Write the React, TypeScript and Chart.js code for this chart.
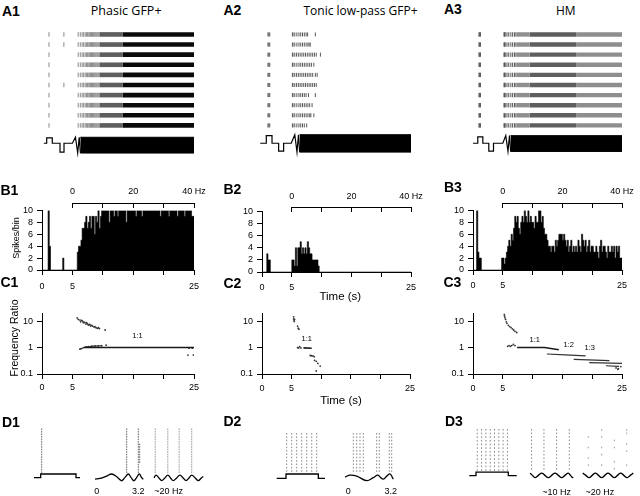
import React, { useEffect, useRef } from "react";
import { Chart, registerables } from "chart.js";

Chart.register(...registerables);

const SANS = "'Liberation Sans', Arial, Helvetica, sans-serif";
const TITLE_FONT = "'Open Sans', 'Noto Sans', sans-serif";
Chart.defaults.font.family = SANS;
Chart.defaults.color = "#000";

/* ======================= DATA ======================= */
const TRIALS = [1, 2, 3, 4, 5, 6, 7, 8, 9, 10];

// ---- A1 Phasic GFP+ (spike times, s) ----
const A1_EARLY_SPIKES = [[1.15, 3.6], [1.15, 3.6], [1.15], [1.15], [1.15], [1.15, 3.6], [1.15], [1.15], [1.15], [1.15]];
const A1_CHIRP_SPIKES = [5.95, 6.3, 6.6, 6.85, 7.1, 7.3, 7.5, 7.7, 7.85, 8.0, 8.15, 8.3, 8.45, 8.6, 8.75, 8.9, 9.05, 9.2, 9.35];
const A1_DENSE_RUNS = [[9.45, 13.3, 3], [13.3, 25, 4]]; // [start s, end s, density level]
const A1_STIM = [[0.3, 0], [0.77, 0], [0.77, 1], [1.69, 1], [1.69, 0], [2.96, 0], [2.96, -1.63], [3.62, -1.63], [3.62, 0], [5.0, 0], [5.5, 1.1], [5.87, -1.8], [6.12, 1.1], [6.32, -1.8]];
const A1_STIM_BAND = [6.3, 25, -1.8, 1.1];

// ---- A2 Tonic low-pass GFP+ ----
const A2_SPIKES = [
  [1.0, 1.15, 1.3, 5.1, 5.2, 5.5, 5.85, 6.2, 6.5, 6.8, 7.1, 7.4, 7.65, 8.95],
  [1.0, 1.15, 1.3, 5.1, 5.2, 5.5, 5.85, 6.2, 6.5, 6.8, 7.1, 7.4, 7.7, 7.9, 8.1],
  [1.0, 1.15, 1.3, 5.1, 5.2, 5.5, 5.8, 6.1, 6.4, 6.7, 7.0, 7.3, 7.6, 7.9, 8.2, 8.5, 8.8, 9.1, 9.8],
  [1.0, 1.15, 1.3, 5.1, 5.2, 5.5, 5.85, 6.2, 6.5, 6.8, 7.1, 7.4, 7.7, 8.0, 8.3, 8.7],
  [1.0, 1.15, 1.3, 5.1, 5.2, 5.5, 5.8, 6.1, 6.4, 6.7, 7.0, 7.3, 7.6, 7.9, 8.2, 8.5, 8.95, 9.25],
  [1.0, 1.15, 1.3, 5.1, 5.2, 5.5, 5.8, 6.1, 6.4, 6.7, 7.0, 7.3, 7.6, 7.9, 8.2, 8.5, 8.8, 9.1],
  [1.0, 1.15, 1.3, 5.1, 5.2, 5.5, 5.85, 6.2, 6.5, 6.8, 7.1, 7.4, 7.8, 8.95],
  [1.0, 1.15, 1.3, 5.1, 5.2, 5.5, 5.85, 6.2, 6.5, 6.8, 7.1, 7.4, 7.7, 8.0, 8.4],
  [1.0, 1.15, 1.3, 5.1, 5.2, 5.5, 5.85, 6.2, 6.5, 6.8, 7.1, 7.4, 7.7, 8.0, 8.2, 8.7],
  [1.0, 1.15, 1.3, 5.1, 5.2, 5.5, 5.85, 6.2, 6.5, 6.8, 7.1, 7.5],
];
const A2_STIM = [[-0.3, 0], [0.72, 0], [0.72, 1], [1.68, 1], [1.68, 0], [2.79, 0], [2.79, -1.04], [3.63, -1.04], [3.63, 0], [4.9, 0], [5.5, 1.12], [5.87, -1.16], [6.12, 1.12], [6.32, -1.16]];
const A2_STIM_BAND = [6.3, 25.2, -1.16, 1.12];

// ---- A3 HM ----
const A3_EARLY_SPIKES = [1.0, 1.12, 1.25];
const A3_CHIRP_SPIKES = [5.2, 5.3, 5.4, 5.7, 6.0, 6.35, 6.65, 6.95, 7.2];
const A3_DENSE_RUNS = [[7.3, 9.5, 2], [9.5, 17.3, 3], [17.3, 25.1, 2]];
const A3_STIM = [[0, 0], [0.8, 0], [0.8, 1], [1.65, 1], [1.65, 0], [2.65, 0], [2.65, -1.24], [3.44, -1.24], [3.44, 0], [5.0, 0], [5.5, 1.19], [5.87, -1.28], [6.12, 1.19], [6.32, -1.28]];
const A3_STIM_BAND = [6.3, 25.1, -1.28, 1.19];

// ---- B: spike histograms, 0.2 s bins from 0 s ----
const HIST_START = 0;
const HIST_BIN = 0.2;
const B1_COUNTS = [
  0, 0, 0, 0, 0, 0, 10, 4, 0, 0,
  0, 0, 0, 0, 0, 0, 0, 0, 2, 0,
  0, 0, 0, 0, 0, 0, 0, 0, 0, 0,
  3, 4, 4, 5, 7, 7, 8, 9, 7, 8,
  9, 7, 9, 9, 6, 9, 8, 10, 7, 9,
  10, 10, 10, 10, 10, 10, 8, 10, 10, 10,
  9, 10, 10, 9, 10, 10, 10, 10, 10, 10,
  8, 10, 10, 10, 10, 10, 10, 10, 9, 10,
  10, 10, 10, 9, 10, 10, 10, 10, 10, 10,
  10, 10, 10, 10, 10, 10, 10, 10, 9, 10,
  10, 10, 10, 10, 10, 9, 10, 10, 10, 10,
  10, 10, 9, 10, 10, 10, 10, 10, 9, 10,
  10, 10, 10, 10, 9,
];
const B2_COUNTS = [
  0, 0, 0, 0, 0, 3, 2, 2, 0, 0,
  0, 0, 0, 0, 0, 0, 0, 0, 0, 0,
  0, 0, 0, 0, 0, 0, 2, 2, 1, 4,
  1, 4, 4, 5, 3, 4, 3, 4, 3, 5,
  4, 3, 3, 2, 2, 2, 2, 2, 1, 0,
  0, 0, 0, 0, 0, 0, 0, 0, 0, 0,
  0, 0, 0, 0, 0, 0, 0, 0, 0, 0,
  0, 0, 0, 0, 0, 0, 0, 0, 0, 0,
  0, 0, 0, 0, 0, 0, 0, 0, 0, 0,
  0, 0, 0, 0, 0, 0, 0, 0, 0, 0,
  0, 0, 0, 0, 0, 0, 0, 0, 0, 0,
  0, 0, 0, 0, 0, 0, 0, 0, 0, 0,
  0, 0, 0, 0, 0,
];
const B3_COUNTS = [
  0, 0, 0, 0, 10, 3, 2, 2, 0, 0,
  0, 0, 0, 0, 0, 0, 0, 0, 0, 0,
  0, 0, 0, 0, 0, 2, 2, 1, 2, 3,
  4, 5, 4, 6, 5, 7, 9, 8, 9, 7,
  6, 8, 9, 8, 10, 9, 8, 10, 8, 9,
  8, 8, 7, 9, 8, 8, 10, 10, 8, 9,
  7, 6, 6, 5, 4, 4, 3, 4, 4, 3,
  5, 4, 5, 6, 6, 6, 5, 6, 5, 4,
  5, 3, 4, 5, 3, 4, 3, 4, 3, 5,
  4, 3, 6, 5, 4, 5, 3, 4, 5, 3,
  4, 4, 3, 3, 4, 3, 2, 4, 5, 3,
  4, 4, 3, 2, 4, 3, 3, 4, 3, 4,
  2, 4, 3, 4, 2,
];
const TIME_TICKS = [0, 5, 10, 15, 20, 25];
const TIME_TICK_LABELS = ["0", "5", "", "", "", "25"];
const COUNT_TICKS = [0, 2, 4, 6, 8, 10];
const COUNT_TICK_LABELS = ["0", "2", "4", "6", "8", "10"];
const HZ_TICKS = [0, 10, 20, 30, 40];
const HZ_TICK_LABELS = ["0", "", "20", "", "40 Hz"];

// ---- C: frequency ratio (time s, ratio) ----
const RATIO_TICKS = [0.1, 1, 10];
const RATIO_TICK_LABELS = ["0.1", "1", "10"];
const C1_DOTS = [
  [5.79, 13.3], [5.96, 11.5], [6.24, 10.9], [6.35, 9.4], [6.51, 10.6], [6.68, 10], [6.79, 8.7], [6.9, 9.2], [7.06, 8.7], [7.23, 7.7],
  [7.34, 8.7], [7.45, 7.9], [7.62, 7.1], [7.78, 7.5], [7.89, 7.3], [8.0, 6.5], [8.17, 6.9], [8.33, 6.5], [8.55, 6.0], [8.72, 6.1],
  [8.89, 5.6], [9.1, 5.3], [9.27, 5.6], [9.44, 5.2], [10.38, 4.6],
  [6.24, 0.87], [6.51, 0.91], [7.23, 1.06], [7.62, 1.09], [8.17, 1.12], [8.72, 1.15], [9.27, 1.15], [9.82, 1.17], [10.54, 1.23],
  [24.17, 0.95], [24.72, 0.95], [24.0, 0.52], [24.9, 0.52],
];
const C1_TRENDS = [
  [[6.8, 1.0], [25, 1.0]],
  [[6.2, 0.88], [7.2, 1.05], [8.5, 1.13], [9.8, 1.17]],
];
const C2_DOTS = [
  [5.34, 14.5], [5.34, 12.2], [5.39, 10.9], [5.45, 9.7], [5.5, 11.5], [6.01, 6.5], [6.12, 5.35], [6.24, 4.9],
  [6.01, 1.0], [6.18, 0.97], [6.35, 1.09], [6.57, 0.97],
  [8.15, 0.5], [8.37, 0.49], [8.6, 0.48], [8.82, 0.45],
  [8.88, 0.33], [9.16, 0.3], [9.44, 0.25], [9.83, 0.2], [9.16, 0.13],
];
const C2_TRENDS = [[[7.0, 0.97], [8.4, 0.94]]];
const C3_DOTS = [
  [5.25, 17.7], [5.3, 15.3], [5.36, 13.3], [5.47, 11.5], [5.59, 9.4], [5.7, 8.2], [5.93, 6.9], [6.15, 6.2], [6.38, 5.7], [6.6, 5.1],
  [6.83, 4.6], [7.05, 4.1], [7.34, 3.7],
  [5.81, 1.11], [6.04, 1.19], [6.26, 1.11], [6.49, 1.19], [6.77, 1.3], [7.05, 1.19],
  [24.0, 0.17], [24.4, 0.16], [24.8, 0.19], [24.3, 0.15],
];
const C3_TRENDS = [
  [[7.4, 1.0], [12.0, 1.0], [14.4, 0.83]],
  [[12.4, 0.57], [15.5, 0.53], [18.9, 0.48]],
  [[16.9, 0.36], [22.9, 0.32]],
  [[19.5, 0.27], [25, 0.25]],
  [[22.3, 0.205], [24.5, 0.195]],
];

// ---- D: example rasters (times in ms) ----
const D1_TRIALS = [1, 2, 3, 4, 5, 6, 7, 8, 9, 10, 11, 12, 13, 14, 15, 16, 17, 18];
const D23_TRIALS = [1, 2, 3, 4, 5, 6, 7, 8, 9, 10, 11, 12];
const D1A_STIM = [[-190, 0], [0, 0], [0, 1], [1000, 1], [1000, 0], [1113, 0]];
const D1A_SPIKE_TIMES = [28];
const D1B_STIM = [[0, -0.5], [207, -0.3], [484, 0.4], [691, 1], [898, 0.2], [1106, -1], [1242, 0], [1379, 1], [1490, 0], [1615, -1], [1727, 0], [1834, 1], [1925, 0], [2000, -0.6]];
const D1B_SPIKE_TIMES = [1312, 1793];
const D1B_EXTRA_TIME = 1850;
const D1B_EXTRA_TRIALS = [7, 8, 9, 10, 11, 12, 13, 14];
const D1C_STIM = [[0, 0], [8, 1], [20, 0], [31, -1], [44, 0], [56, 1], [67, 0], [78, -1], [92, 0], [105, 1], [118, 0], [130, -1], [142, 0], [153, 1], [167, 0], [180, -1], [192, 0], [200, 0.5]];
const D1C_SPIKE_TIMES = [5, 56, 102, 153];
const D2A_STIM = [[-288, 0], [0, 0], [0, 1], [1000, 1], [1000, 0], [1207, 0]];
const D2A_SPIKE_TIMES = [21, 176, 331, 486, 641, 796, 950];
const D2B_STIM = [[0, 0.17], [207, 0.67], [483, 0.42], [897, -0.83], [1173, 0], [1354, 0.67], [1478, 0], [1588, -0.42], [1727, 0.42], [1863, 1], [2000, -0.42]];
const D2B_SPIKE_TIMES = [344, 484, 621, 758, 1312, 1420, 1834, 1934];
const D3A_STIM = [[-207, 0], [0, 0], [0, 1], [1000, 1], [1000, 0], [1260, 0]];
const D3A_SPIKE_TIMES = [40, 173, 307, 440, 573, 706, 839, 972];
const D3B_STIM = [[0, 1], [23, 0], [46, -1], [77, 0], [108, 1], [138, 0], [169, -1], [200, 0], [231, 1], [262, 0], [292, -1], [323, 0], [354, 1], [374, 0], [394, -1], [400, -0.8]];
const D3B_SPIKE_TIMES = [15, 129, 246, 363];
const D3C_STIM = [[0, 1], [12.5, 0], [25, -1], [37.5, 0], [50, 1], [62.5, 0], [75, -1], [87.5, 0], [100, 1], [112.5, 0], [125, -1], [137.5, 0], [150, 1], [162.5, 0], [176, -1], [188, 0], [200, 1]];
const D3C_SPIKES = [[22, [3, 6, 9, 11]], [75, [1, 3, 6, 8, 11]], [125, [4, 6, 10, 12]], [174, [1, 2, 5, 7, 11]]];

/* ======================= STYLE / LAYOUT ======================= */
const DENSITY_SHADES = ["#ffffff", "#b0b0b0", "#8e8e8e", "#5e5e5e", "#0a0a0a"];

const baseOptions = (pad) => ({
  animation: false,
  responsive: false,
  events: [],
  layout: { padding: pad },
  plugins: { legend: { display: false }, tooltip: { enabled: false } },
});

// raster/stimulus strip (A and D panels)
function strip(o) {
  const L = o.layout;
  const left = Math.floor(L.L - 10), right = Math.ceil(L.R + 8);
  const top = Math.floor(L.T - 2), bottom = Math.ceil(L.B + 2);
  const pad = { left: L.L - left, right: right - L.R, top: L.T - top, bottom: bottom - L.B };
  const make = () => {
    const ds: any[] = [];
    (o.runs || []).forEach((r) =>
      ds.push({
        data: [{ x: r.t0, y: r.row }, { x: r.t1, y: r.row }],
        yAxisID: "y", borderColor: r.color, borderWidth: o.tick.len, borderCapStyle: "butt",
        pointRadius: 0, fill: false,
      })
    );
    ds.push({
      data: o.spikes, yAxisID: "y", showLine: false, pointStyle: "line", pointRotation: 90,
      pointRadius: o.tick.len / 2, pointBorderWidth: o.tick.width, pointBorderColor: o.tick.color,
      borderColor: o.tick.color, pointBackgroundColor: o.tick.color, clip: false,
    });
    if (o.band) {
      const [t0, t1, lo, hi] = o.band;
      ds.push({ data: [{ x: t0, y: hi }, { x: t1, y: hi }], yAxisID: "ys", borderColor: "#000", borderWidth: 1, pointRadius: 0, fill: "+1", backgroundColor: "#000" });
      ds.push({ data: [{ x: t0, y: lo }, { x: t1, y: lo }], yAxisID: "ys", borderColor: "#000", borderWidth: 1, pointRadius: 0, fill: false });
    }
    ds.push({
      data: o.stim.map(([x, y]) => ({ x, y })), yAxisID: "ys", borderColor: "#000",
      borderWidth: o.stimWidth || 1.2, pointRadius: 0, tension: o.tension || 0, clip: false, fill: false,
    });
    return {
      type: "line",
      data: { datasets: ds },
      options: {
        ...baseOptions(pad),
        scales: {
          x: { type: "linear", display: false, min: L.xMin, max: L.xMax },
          y: { type: "linear", display: false, reverse: true, min: 1 + (L.T - L.rowTop) / L.rowStep, max: 1 + (L.B - L.rowTop) / L.rowStep },
          ys: { type: "linear", display: false, min: (L.stimBase - L.B) / L.stimScale, max: (L.stimBase - L.T) / L.stimScale },
        },
      },
    };
  };
  return { box: { left, top, width: right - left, height: bottom - top }, make };
}

const tickFont = { family: SANS, size: 9 };
const axisGrid = { drawOnChartArea: false, drawTicks: true, tickLength: 5, color: "#000", lineWidth: 1, offset: false };
const axisBorder = { display: true, color: "#000", width: 1 };

function timeAxis(pad) {
  return {
    type: "linear", min: 0, max: 25, offset: false,
    afterBuildTicks: (s) => { s.ticks = TIME_TICKS.map((value) => ({ value })); },
    afterFit: (s) => { s.height = 24; },
    ticks: { autoSkip: false, maxRotation: 0, padding: pad, color: "#000", font: tickFont, callback: (_v, i) => TIME_TICK_LABELS[i] },
    grid: axisGrid, border: axisBorder,
  };
}

function axesPanel(o) {
  const left = o.L - 40, top = o.T - 8, right = o.R + 14, bottom = o.B + 24;
  const make = () => ({
    type: "line",
    data: { datasets: o.datasets() },
    options: {
      ...baseOptions({ left: 0, right: 14, top: 8, bottom: 0 }),
      scales: { x: timeAxis(o.xPad), y: o.yAxis() },
    },
  });
  return { box: { left, top, width: right - left, height: bottom - top }, make };
}

function countAxis() {
  return {
    type: "linear", min: 0, max: 10,
    afterBuildTicks: (s) => { s.ticks = COUNT_TICKS.map((value) => ({ value })); },
    afterFit: (s) => { s.width = 40; },
    ticks: { autoSkip: false, padding: 4, color: "#000", font: tickFont, callback: (_v, i) => COUNT_TICK_LABELS[i] },
    grid: axisGrid, border: axisBorder,
  };
}
function ratioAxis() {
  return {
    type: "logarithmic", min: 0.1, max: 19.5,
    afterBuildTicks: (s) => { s.ticks = RATIO_TICKS.map((value) => ({ value })); },
    afterFit: (s) => { s.width = 40; },
    ticks: { autoSkip: false, padding: 4, color: "#000", font: tickFont, callback: (_v, i) => RATIO_TICK_LABELS[i] },
    grid: axisGrid, border: axisBorder,
  };
}

// histogram drawn as a stepped, filled outline (one step per bin)
function histPanel(L, R, T, B, counts, xPad) {
  return axesPanel({
    L, R, T, B, xPad, yAxis: countAxis,
    datasets: () => [{
      data: [
        ...counts.map((c, i) => ({ x: HIST_START + i * HIST_BIN, y: c })),
        { x: HIST_START + counts.length * HIST_BIN, y: counts[counts.length - 1] },
      ],
      stepped: "after", fill: "origin", backgroundColor: "#000", borderColor: "#000",
      borderWidth: 0.6, pointRadius: 0,
    }],
  });
}

function ratioPanel(L, R, T, B, dots, trends, xPad) {
  return axesPanel({
    L, R, T, B, xPad, yAxis: ratioAxis,
    datasets: () => [
      ...trends.map((seg, k) => ({
        data: seg.map(([x, y]) => ({ x, y })), borderColor: k === 0 ? "#1a1a1a" : "#333",
        borderWidth: k === 0 ? 1.6 : 1.2, pointRadius: 0, fill: false,
      })),
      {
        data: dots.map(([x, y]) => ({ x, y })), showLine: false, pointRadius: 0.9,
        pointBackgroundColor: "#333", pointBorderWidth: 0,
      },
    ],
  });
}

function hzAxisPanel(L, R, lineY, pad) {
  const left = Math.floor(L - 12), right = Math.ceil(R + 24);
  const top = lineY - 18, bottom = lineY + 5;
  const make = () => ({
    type: "line",
    data: { datasets: [] },
    options: {
      ...baseOptions({ left: L - left, right: right - R, top: 0, bottom: 0 }),
      scales: {
        x: {
          type: "linear", position: "top", min: 0, max: 40, offset: false,
          afterBuildTicks: (s) => { s.ticks = HZ_TICKS.map((value) => ({ value })); },
          afterFit: (s) => { s.height = 18; },
          ticks: { autoSkip: false, maxRotation: 0, padding: pad, color: "#000", font: tickFont, callback: (_v, i) => HZ_TICK_LABELS[i] },
          grid: { drawOnChartArea: true, drawTicks: false, color: "#000", lineWidth: 1 },
          border: axisBorder,
        },
        y: { type: "linear", display: false, min: 0, max: 1 },
      },
    },
  });
  return { box: { left, top, width: right - left, height: bottom - top }, make };
}

/* ---- helpers to turn data into points ---- */
const rowSpikes = (rows) => rows.flatMap((ts, i) => ts.map((t) => ({ x: t, y: i + 1 })));
const columnSpikes = (times, trials) => times.flatMap((t) => trials.map((r) => ({ x: t, y: r })));
const denseRuns = (runs) => TRIALS.flatMap((row) => runs.map(([t0, t1, lvl]) => ({ t0, t1, row, color: DENSITY_SHADES[lvl] })));

const A_ROWS = { T: 26, B: 158, rowTop: 31.7, rowStep: 10.59, stimBase: 145.7, xMin: 0, xMax: 25 };
const D_TICK = { len: 1.6, width: 1, color: "#6a6a6a" };

const PLOTS = [
  // A rasters
  strip({
    layout: { ...A_ROWS, L: 42, R: 194, stimScale: 5.7 },
    spikes: [...rowSpikes(A1_EARLY_SPIKES), ...rowSpikes(TRIALS.map(() => A1_CHIRP_SPIKES))],
    runs: denseRuns(A1_DENSE_RUNS), tick: { len: 4.6, width: 1, color: "#8a8a8a" },
    stim: A1_STIM, band: A1_STIM_BAND,
  }),
  strip({
    layout: { ...A_ROWS, L: 262, R: 411, stimScale: 8 },
    spikes: rowSpikes(A2_SPIKES), tick: { len: 4, width: 1, color: "#5a5a5a" },
    stim: A2_STIM, band: A2_STIM_BAND,
  }),
  strip({
    layout: { ...A_ROWS, L: 473, R: 622, stimScale: 6.7 },
    spikes: rowSpikes(TRIALS.map(() => [...A3_EARLY_SPIKES, ...A3_CHIRP_SPIKES])),
    runs: denseRuns(A3_DENSE_RUNS), tick: { len: 4.4, width: 1, color: "#555" },
    stim: A3_STIM, band: A3_STIM_BAND,
  }),
  // B histograms
  histPanel(42, 194, 209, 270, B1_COUNTS, 6),
  histPanel(262, 411, 210, 272, B2_COUNTS, 5),
  histPanel(473, 622, 209, 270, B3_COUNTS, 5.5),
  hzAxisPanel(72.4, 194, 203, 6),
  hzAxisPanel(291.8, 411, 207, 5),
  hzAxisPanel(502.8, 622, 203, 6),
  // C ratios
  ratioPanel(42, 194, 312, 374, C1_DOTS, C1_TRENDS, 3.5),
  ratioPanel(262, 410, 312, 374, C2_DOTS, C2_TRENDS, 4.5),
  ratioPanel(473, 622, 312, 374, C3_DOTS, C3_TRENDS, 4.5),
  // D examples
  strip({ layout: { L: 34, R: 80, xMin: -190, xMax: 1113, T: 422, B: 487, rowTop: 426.7, rowStep: 2.78, stimBase: 480, stimScale: 4 },
    spikes: columnSpikes(D1A_SPIKE_TIMES, D1_TRIALS), tick: D_TICK, stim: D1A_STIM, stimWidth: 1.3 }),
  strip({ layout: { L: 95, R: 143.3, xMin: 0, xMax: 2000, T: 422, B: 487, rowTop: 426.7, rowStep: 2.78, stimBase: 479.7, stimScale: 3.7 },
    spikes: [...columnSpikes(D1B_SPIKE_TIMES, D1_TRIALS), ...columnSpikes([D1B_EXTRA_TIME], D1B_EXTRA_TRIALS)],
    tick: D_TICK, stim: D1B_STIM, tension: 0.4, stimWidth: 1.3 }),
  strip({ layout: { L: 154, R: 203.3, xMin: 0, xMax: 200, T: 422, B: 487, rowTop: 426.7, rowStep: 2.78, stimBase: 480.3, stimScale: 3 },
    spikes: columnSpikes(D1C_SPIKE_TIMES, D1_TRIALS), tick: { ...D_TICK, color: "#9a9a9a" }, stim: D1C_STIM, tension: 0.4, stimWidth: 1.3 }),
  strip({ layout: { L: 276.7, R: 325, xMin: -288, xMax: 1207, T: 422, B: 487, rowTop: 431.7, rowStep: 3.73, stimBase: 480.7, stimScale: 4.7 },
    spikes: columnSpikes(D2A_SPIKE_TIMES, D23_TRIALS), tick: { ...D_TICK, color: "#8a8a8a" }, stim: D2A_STIM, stimWidth: 1.3 }),
  strip({ layout: { L: 345, R: 393.3, xMin: 0, xMax: 2000, T: 422, B: 487, rowTop: 431.7, rowStep: 3.73, stimBase: 480, stimScale: 4 },
    spikes: columnSpikes(D2B_SPIKE_TIMES, D23_TRIALS), tick: { ...D_TICK, color: "#8a8a8a" }, stim: D2B_STIM, tension: 0.4, stimWidth: 1.3 }),
  strip({ layout: { L: 469.3, R: 516.7, xMin: -207, xMax: 1260, T: 422, B: 487, rowTop: 427.3, rowStep: 4.03, stimBase: 477.7, stimScale: 3.7 },
    spikes: columnSpikes(D3A_SPIKE_TIMES, D23_TRIALS), tick: { ...D_TICK, color: "#8a8a8a" }, stim: D3A_STIM, stimWidth: 1.3 }),
  strip({ layout: { L: 530, R: 573.3, xMin: 0, xMax: 400, T: 422, B: 487, rowTop: 427.3, rowStep: 3.9, stimBase: 477.5, stimScale: 2.5 },
    spikes: columnSpikes(D3B_SPIKE_TIMES, D23_TRIALS), tick: { ...D_TICK, color: "#8a8a8a" }, stim: D3B_STIM, tension: 0.4, stimWidth: 1.3 }),
  strip({ layout: { L: 582.7, R: 633.3, xMin: 0, xMax: 200, T: 422, B: 487, rowTop: 427.3, rowStep: 3.9, stimBase: 477.5, stimScale: 2.5 },
    spikes: D3C_SPIKES.flatMap(([t, rows]) => rows.map((r) => ({ x: t, y: r }))), tick: { ...D_TICK, color: "#9a9a9a" }, stim: D3C_STIM, tension: 0.4, stimWidth: 1.3 }),
];

/* ======================= TEXT ======================= */
const TEXTS = [
  // panel labels
  { t: "A1", x: 2, y: 10.5, s: 14, b: true, a: "left" },
  { t: "A2", x: 223.5, y: 10, s: 14, b: true, a: "left" },
  { t: "A3", x: 444, y: 8.5, s: 14, b: true, a: "left" },
  { t: "B1", x: 0.5, y: 190, s: 14, b: true, a: "left" },
  { t: "B2", x: 223.5, y: 188.5, s: 14, b: true, a: "left" },
  { t: "B3", x: 444, y: 187, s: 14, b: true, a: "left" },
  { t: "C1", x: 0.5, y: 282, s: 14, b: true, a: "left" },
  { t: "C2", x: 223.5, y: 283, s: 14, b: true, a: "left" },
  { t: "C3", x: 443.5, y: 281.5, s: 14, b: true, a: "left" },
  { t: "D1", x: 2, y: 421.5, s: 14, b: true, a: "left" },
  { t: "D2", x: 223.5, y: 421, s: 14, b: true, a: "left" },
  { t: "D3", x: 445, y: 420.5, s: 14, b: true, a: "left" },
  // titles
  { t: "Phasic GFP+", x: 126.2, y: 10.5, s: 12.5, f: TITLE_FONT },
  { t: "Tonic low-pass GFP+", x: 360.5, y: 10.5, s: 12, f: TITLE_FONT },
  { t: "HM", x: 565.8, y: 10.8, s: 12, f: TITLE_FONT },
  // axis titles
  { t: "Spikes/bin", x: 15.5, y: 237.5, s: 9, rot: true },
  { t: "Frequency Ratio", x: 14, y: 338, s: 10.5, rot: true },
  { t: "Time (s)", x: 340.3, y: 296.7, s: 11.5 },
  { t: "Time (s)", x: 341, y: 400.5, s: 11.5 },
  // ratio annotations
  { t: "1:1", x: 137.5, y: 335.5, s: 7.5 },
  { t: "1:1", x: 306.7, y: 338.7, s: 7.5 },
  { t: "1:1", x: 534.7, y: 339.5, s: 7.5 },
  { t: "1:2", x: 568.7, y: 345, s: 7.5 },
  { t: "1:3", x: 589.7, y: 348.3, s: 7.5 },
  // D stimulus labels
  { t: "0", x: 96.7, y: 490.7, s: 9 },
  { t: "3.2", x: 138.3, y: 490.7, s: 9 },
  { t: "~20 Hz", x: 168.7, y: 490.7, s: 9 },
  { t: "0", x: 348.3, y: 491, s: 9 },
  { t: "3.2", x: 390.8, y: 491, s: 9 },
  { t: "~10 Hz", x: 556.7, y: 491.7, s: 9 },
  { t: "~20 Hz", x: 599.8, y: 491.7, s: 9 },
];

function Plot({ spec }) {
  const ref = useRef<HTMLCanvasElement>(null);
  useEffect(() => {
    const chart = new Chart(ref.current as HTMLCanvasElement, spec.make() as any);
    return () => chart.destroy();
  }, [spec]);
  const b = spec.box;
  return (
    <canvas
      ref={ref}
      width={b.width}
      height={b.height}
      style={{ position: "absolute", left: b.left, top: b.top, width: b.width, height: b.height }}
    />
  );
}

function Label({ d }) {
  const tx = d.a === "left" ? "0" : "-50%";
  return (
    <div
      style={{
        position: "absolute",
        left: d.x,
        top: d.y,
        transform: `translate(${tx}, -50%)${d.rot ? " rotate(-90deg)" : ""}`,
        fontFamily: d.f || SANS,
        fontSize: d.s,
        fontWeight: d.b ? 700 : 400,
        lineHeight: 1,
        whiteSpace: "nowrap",
        color: "#000",
      }}
    >
      {d.t}
    </div>
  );
}

export default function App() {
  return (
    <div style={{ position: "fixed", left: 0, top: 0, width: 640, height: 496, background: "#fff", overflow: "hidden" }}>
      {PLOTS.map((p, i) => (
        <Plot key={i} spec={p} />
      ))}
      {TEXTS.map((d, i) => (
        <Label key={"t" + i} d={d} />
      ))}
    </div>
  );
}
